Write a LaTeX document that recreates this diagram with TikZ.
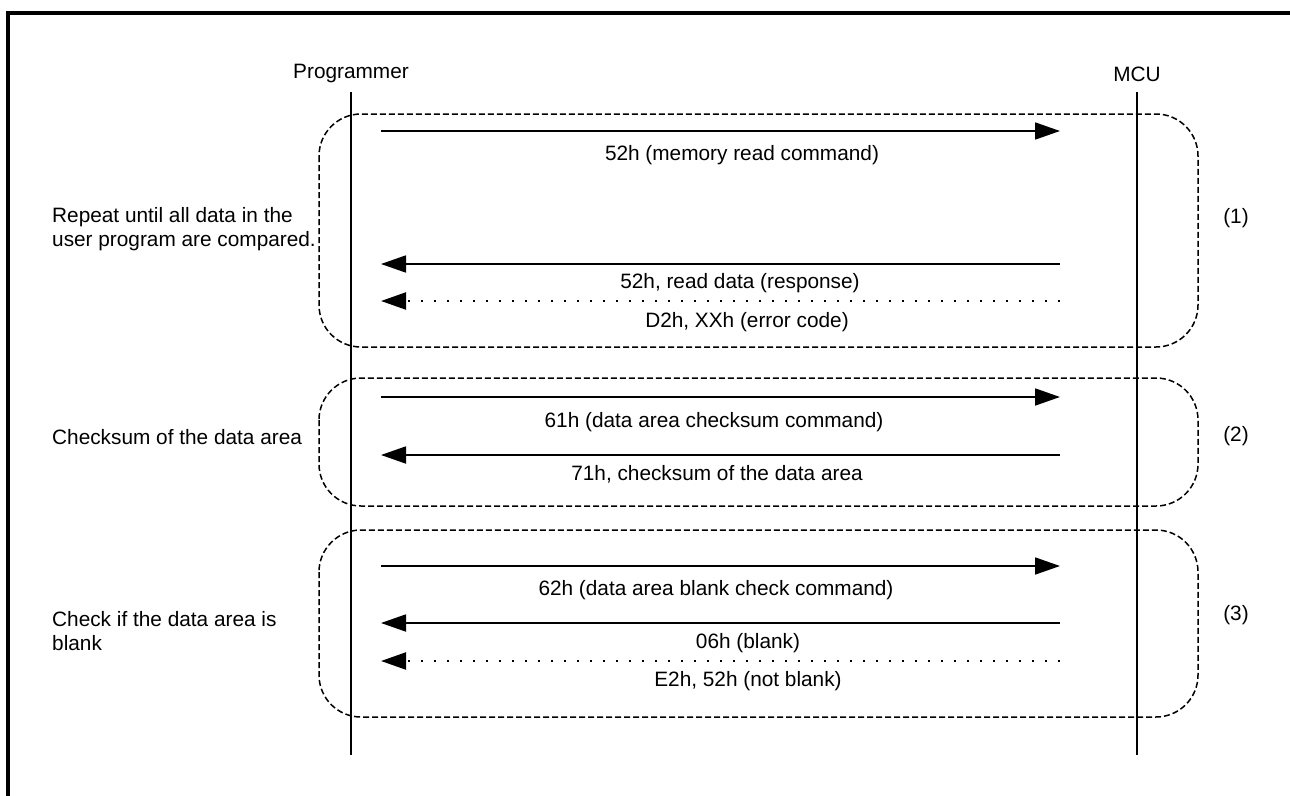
\documentclass[tikz,border=0pt]{standalone}
\usepackage{fontspec}
\setmainfont{Liberation Sans}
\usetikzlibrary{arrows.meta}
\begin{document}
\begin{tikzpicture}[x=1pt,y=-1pt,
  every node/.style={font=\fontsize{20.8}{24}\selectfont, inner sep=0pt},
  frame/.style={line width=3.2pt},
  life/.style={line width=1.7pt},
  group/.style={line width=1.5pt, dash pattern=on 6pt off 3pt, rounded corners=42pt},
  msg/.style={line width=1.8pt, -{Triangle[length=25pt,width=17pt]}},
  alt/.style={msg, line width=2.2pt, dash pattern=on 2.2pt off 10.8pt},
  lbl/.style={anchor=center},
  side/.style={anchor=west, align=left}]
\useasboundingbox (0,0) rectangle (1290,795);
\clip (0,0) rectangle (1290,795);
\fill[white] (0,0) rectangle (1290,795);
\draw[frame] (8,810) -- (8,13) -- (1300,13);

% lifelines
\node (prog) at (351,74) {Programmer};
\node (mcu) at (1137,74) {MCU};
\coordinate (pt) at (351,92); \coordinate (pb) at (351,755);
\coordinate (mt) at (1137,92); \coordinate (mb) at (1137,755);
\draw[life] (pt) -- (pb);
\draw[life] (mt) -- (mb);

% groups
\draw[group] (319,114) rectangle (1198,347);
\draw[group] (319,378) rectangle (1198,506);
\draw[group] (319,530) rectangle (1198,717);
\node (n1) at (1236,218) {(1)};
\node (n2) at (1236,436) {(2)};
\node (n3) at (1236,615) {(3)};

% side labels
\node[side] (s1) at (52,229) {Repeat until all data in the\\user program are compared.};
\node[side] (s2) at (52,437) {Checksum of the data area};
\node[side] (s3) at (52,631) {Check if the data area is\\blank};

% messages group 1
\coordinate (a1l) at (381,131); \coordinate (a1r) at (1060,131);
\draw[msg] (a1l) -- (a1r);
\node[lbl] (t1) at (742,155) {52h (memory read command)};
\coordinate (a2l) at (381,264); \coordinate (a2r) at (1060,264);
\draw[msg] (a2r) -- (a2l);
\node[lbl] (t2) at (740,283) {52h, read data (response)};
\coordinate (a3l) at (381,301); \coordinate (a3r) at (1060,301);
\draw[alt] (a3r) -- (a3l);
\node[lbl] (t3) at (747,322) {D2h, XXh (error code)};

% group 2
\coordinate (b1l) at (381,397); \coordinate (b1r) at (1060,397);
\draw[msg] (b1l) -- (b1r);
\node[lbl] (u1) at (714,422) {61h (data area checksum command)};
\coordinate (b2l) at (381,455); \coordinate (b2r) at (1060,455);
\draw[msg] (b2r) -- (b2l);
\node[lbl] (u2) at (717,474) {71h, checksum of the data area};

% group 3
\coordinate (c1l) at (381,566); \coordinate (c1r) at (1060,566);
\draw[msg] (c1l) -- (c1r);
\node[lbl] (v1) at (716,590) {62h (data area blank check command)};
\coordinate (c2l) at (381,623); \coordinate (c2r) at (1060,623);
\draw[msg] (c2r) -- (c2l);
\node[lbl] (v2) at (748,643) {06h (blank)};
\coordinate (c3l) at (381,661); \coordinate (c3r) at (1060,661);
\draw[alt] (c3r) -- (c3l);
\node[lbl] (v3) at (748,681) {E2h, 52h (not blank)};
\end{tikzpicture}
\end{document}
